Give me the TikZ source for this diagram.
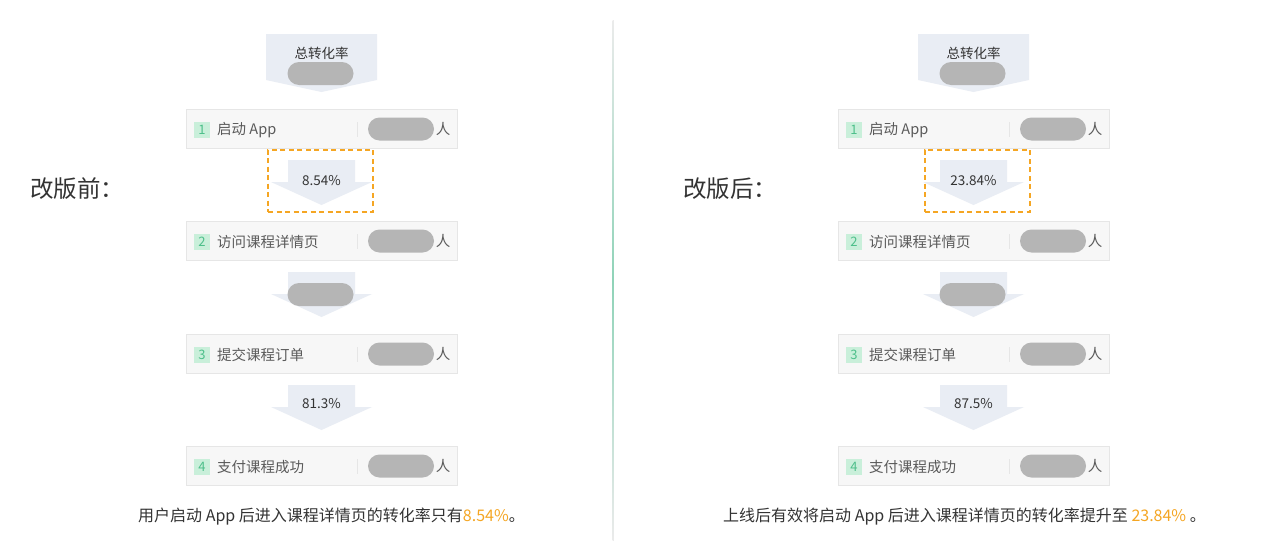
\documentclass[tikz,border=0pt]{standalone}
\usepackage{fontspec}
\setmainfont{Noto Sans CJK SC}
\definecolor{arrowfill}{HTML}{E9EDF4}
\definecolor{boxfill}{HTML}{F7F7F7}
\definecolor{boxline}{HTML}{E6E6E6}
\definecolor{pillgrey}{HTML}{B5B5B5}
\definecolor{sqfill}{HTML}{C9EFDA}
\definecolor{sqtext}{HTML}{4DBF8A}
\definecolor{labtext}{HTML}{5A5A5A}
\definecolor{darktext}{HTML}{333333}
\definecolor{orange}{HTML}{F5A623}
\definecolor{divgrey}{HTML}{EBEBEB}
\definecolor{divgreen}{HTML}{8FD3B8}
\tikzset{
  arrowshape/.style={fill=arrowfill},
  stagebox/.style={draw=boxline, fill=boxfill, line width=0.8pt, minimum width=271pt, minimum height=39pt, inner sep=0pt},
  numsq/.style={fill=sqfill, text=sqtext, minimum width=16pt, minimum height=16pt, inner sep=0pt, font=\fontsize{13}{14}\selectfont},
  stagelabel/.style={text=labtext, inner sep=0pt, font=\fontsize{14.5}{16}\selectfont},
  ratetext/.style={text=darktext, inner sep=0pt, font=\fontsize{13.5}{15}\selectfont},
  pill/.style={fill=pillgrey, minimum width=66pt, minimum height=23pt, rounded corners=11.5pt, inner sep=0pt},
  sepline/.style={draw=boxline, line width=0.8pt},
  hilite/.style={draw=orange, line width=2pt, dash pattern=on 5pt off 3.5pt},
  sidelabel/.style={text=darktext, inner sep=0pt, font=\fontsize{23.5}{26}\selectfont},
  caption/.style={text=darktext, inner sep=0pt, font=\fontsize{16}{18}\selectfont},
}
\newcommand\stage[4]{%
  \node[stagebox] (#1-b#2) at (321.5,#3+19.5) {};
  \node[numsq] (#1-n#2) at (202,#3+20.5) {#2};
  \node[stagelabel, anchor=west] (#1-l#2) at (217,#3+21) {#4};
  \draw[sepline] (357,#3+13) -- (357,#3+28);
  \node[pill] (#1-c#2) at (401,#3+20) {};
  \node[stagelabel] (#1-r#2) at (443,#3+20) {人};
}
\newcommand\funnelarrow[1]{%
  \fill[arrowshape] (288,#1) -- (355,#1) -- (355,#1+22) -- (372,#1+22) -- (321.5,#1+45) -- (271,#1+22) -- (288,#1+22) -- cycle;
}
\newcommand\funnel[5]{% prefix, xshift, first rate, last rate, highlight box x
  \begin{scope}[xshift=#2pt]
    \fill[arrowshape] (266,34) -- (377,34) -- (377,80) -- (321.5,92) -- (266,80) -- cycle;
    \node[ratetext] (#1-t0) at (321.5,53) {总转化率};
    \node[pill] (#1-p0) at (320.5,73.5) {};
    \stage{#1}{1}{109}{启动 App}
    \funnelarrow{160}
    \node[ratetext] (#1-t1) at (321.5,181) {#3};
    \stage{#1}{2}{221}{访问课程详情页}
    \funnelarrow{272}
    \node[pill] (#1-p2) at (320.5,294.5) {};
    \stage{#1}{3}{334}{提交课程订单}
    \funnelarrow{385}
    \node[ratetext] (#1-t3) at (321.5,404) {#4};
    \stage{#1}{4}{446}{支付课程成功}
    \node[hilite, minimum width=105pt, minimum height=62pt, inner sep=0pt] (#1-hl) at (#5,180.5) {};
  \end{scope}
}
\begin{document}
\begin{tikzpicture}[x=1pt, y=-1pt]
  \useasboundingbox (0,0) rectangle (1270,541);
  \fill[white] (0,0) rectangle (1270,541);
  \shade[top color=divgrey, bottom color=divgrey, middle color=divgreen] (612.6,20) rectangle (613.9,541);
  \funnel{L}{0}{8.54\%}{81.3\%}{320.5}
  \funnel{R}{652}{23.84\%}{87.5\%}{325}
  \node[sidelabel, anchor=west] (lefttag) at (30,189) {改版前：};
  \node[sidelabel, anchor=west] (righttag) at (683,189) {改版后：};
  \node[caption, anchor=west] (leftcap) at (138,517) {用户启动 App 后进入课程详情页的转化率只有\textcolor{orange}{8.54\%}。};
  \node[caption, anchor=west] (rightcap) at (723,517) {上线后有效将启动 App 后进入课程详情页的转化率提升至 \textcolor{orange}{23.84\%} 。};
\end{tikzpicture}
\end{document}
